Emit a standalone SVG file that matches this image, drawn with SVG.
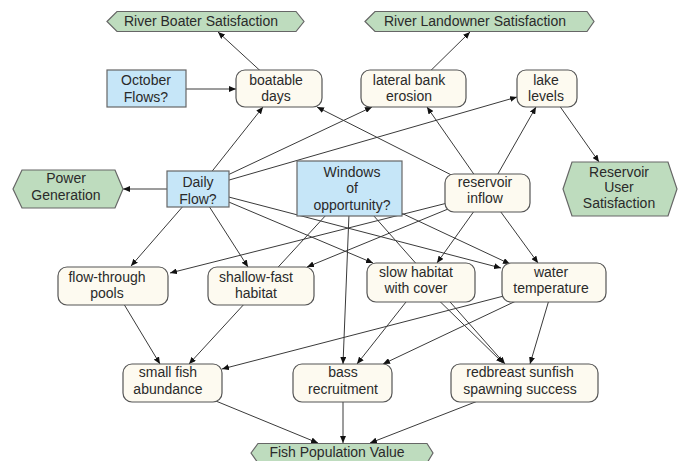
<svg xmlns="http://www.w3.org/2000/svg" width="680" height="461" viewBox="0 0 680 461">
  <defs>
    <marker id="arr" markerUnits="userSpaceOnUse" markerWidth="8" markerHeight="6" refX="7" refY="3" orient="auto">
      <path d="M0,0 L7,3 L0,6 z" fill="#111"/>
    </marker>
    <style>
      .edge { stroke: #3a3a3a; stroke-width: 1; fill: none; marker-end: url(#arr); }
      .chance { fill: #fdfaf0; stroke: #555; stroke-width: 1.2; }
      .decision { fill: #c6e6f8; stroke: #666; stroke-width: 1.2; }
      .value { fill: #bedcbe; stroke: #666; stroke-width: 1.2; }
      text { font-family: "Liberation Sans", Arial, sans-serif; font-size: 14px; fill: #2a2a2a; text-anchor: middle; }
    </style>
  </defs>
  <rect width="680" height="461" fill="#ffffff"/>

  <!-- connectors, drawn first so node shapes sit on top -->
  <g id="connectors">
    <line class="edge" x1="279" y1="88" x2="218" y2="32"/>
    <line class="edge" x1="186" y1="89" x2="236" y2="89"/>
    <line class="edge" x1="413" y1="88" x2="470" y2="32"/>
    <line class="edge" x1="547" y1="88" x2="599" y2="162"/>

    <line class="edge" x1="198" y1="189" x2="123" y2="189"/>
    <line class="edge" x1="198" y1="189" x2="263" y2="107"/>
    <line class="edge" x1="198" y1="189" x2="372" y2="107"/>
    <line class="edge" x1="198" y1="189" x2="517" y2="97"/>
    <line class="edge" x1="198" y1="189" x2="131" y2="266"/>
    <line class="edge" x1="198" y1="189" x2="248" y2="267"/>
    <line class="edge" x1="198" y1="189" x2="373" y2="263"/>
    <line class="edge" x1="198" y1="189" x2="501" y2="268"/>

    <line class="edge" x1="350" y1="189" x2="189" y2="364"/>
    <line class="edge" x1="350" y1="189" x2="343" y2="364"/>
    <line class="edge" x1="350" y1="189" x2="505" y2="364"/>
    <line class="edge" x1="350" y1="189" x2="510" y2="264"/>

    <line class="edge" x1="487" y1="193" x2="317" y2="107"/>
    <line class="edge" x1="487" y1="193" x2="427" y2="107"/>
    <line class="edge" x1="487" y1="193" x2="536" y2="107"/>
    <line class="edge" x1="487" y1="193" x2="170" y2="273"/>
    <line class="edge" x1="487" y1="193" x2="307" y2="267"/>
    <line class="edge" x1="487" y1="193" x2="437" y2="263"/>
    <line class="edge" x1="487" y1="193" x2="538" y2="263"/>

    <line class="edge" x1="554" y1="283" x2="222" y2="369"/>
    <line class="edge" x1="554" y1="283" x2="383" y2="364"/>
    <line class="edge" x1="554" y1="283" x2="530" y2="364"/>

    <line class="edge" x1="421" y1="283" x2="357" y2="364"/>
    <line class="edge" x1="421" y1="283" x2="503" y2="363"/>

    <line class="edge" x1="113" y1="286" x2="160" y2="364"/>

    <line class="edge" x1="172" y1="383" x2="318" y2="443"/>
    <line class="edge" x1="343" y1="383" x2="343" y2="443"/>
    <line class="edge" x1="524" y1="383" x2="370" y2="443"/>
  </g>

  <!-- value nodes -->
  <g id="river-boater-satisfaction">
    <polygon class="value" points="107,21.5 117,11.5 296,11.5 304,21.5 296,31.5 117,31.5"/>
    <text x="201" y="26">River Boater Satisfaction</text>
  </g>
  <g id="river-landowner-satisfaction">
    <polygon class="value" points="365,21.5 375,11.5 587,11.5 594,21.5 587,31.5 375,31.5"/>
    <text x="475" y="26">River Landowner Satisfaction</text>
  </g>
  <g id="power-generation">
    <polygon class="value" points="13,189 22,170 115,170 123,189 115,208 22,208"/>
    <text x="66" y="183">Power</text>
    <text x="66" y="200">Generation</text>
  </g>
  <g id="reservoir-user-satisfaction">
    <polygon class="value" points="563,189 572,162 668,162 677,189 668,216 572,216"/>
    <text x="619" y="177">Reservoir</text>
    <text x="619" y="192">User</text>
    <text x="619" y="208">Satisfaction</text>
  </g>
  <g id="fish-population-value">
    <polygon class="value" points="251,453 258,443.5 427,443.5 433,453 427,463 258,463"/>
    <text x="337" y="457">Fish Population Value</text>
  </g>

  <!-- decision nodes -->
  <g id="october-flows">
    <rect class="decision" x="107" y="70" width="79" height="37"/>
    <text x="146" y="85">October</text>
    <text x="146" y="102">Flows?</text>
  </g>
  <g id="daily-flow">
    <rect class="decision" x="167" y="171" width="62" height="36"/>
    <text x="198" y="187">Daily</text>
    <text x="198" y="204">Flow?</text>
  </g>
  <g id="windows-of-opportunity">
    <rect class="decision" x="297" y="161" width="105" height="55"/>
    <text x="352" y="177">Windows</text>
    <text x="352" y="193">of</text>
    <text x="352" y="210">opportunity?</text>
  </g>

  <!-- chance nodes -->
  <g id="boatable-days">
    <rect class="chance" x="236" y="70" width="86" height="37" rx="9"/>
    <text x="276" y="85">boatable</text>
    <text x="276" y="101">days</text>
  </g>
  <g id="lateral-bank-erosion">
    <rect class="chance" x="361" y="70" width="105" height="37" rx="9"/>
    <text x="409" y="85">lateral bank</text>
    <text x="409" y="101">erosion</text>
  </g>
  <g id="lake-levels">
    <rect class="chance" x="517" y="70" width="60" height="37" rx="9"/>
    <text x="546" y="85">lake</text>
    <text x="546" y="101">levels</text>
  </g>
  <g id="reservoir-inflow">
    <rect class="chance" x="445" y="174" width="85" height="38" rx="9"/>
    <text x="485" y="187">reservoir</text>
    <text x="485" y="203">inflow</text>
  </g>
  <g id="flow-through-pools">
    <rect class="chance" x="58" y="267" width="110" height="38" rx="9"/>
    <text x="107" y="282">flow-through</text>
    <text x="107" y="298">pools</text>
  </g>
  <g id="shallow-fast-habitat">
    <rect class="chance" x="208" y="267" width="106" height="38" rx="9"/>
    <text x="256" y="282">shallow-fast</text>
    <text x="256" y="298">habitat</text>
  </g>
  <g id="slow-habitat-with-cover">
    <rect class="chance" x="367" y="263" width="108" height="39" rx="9"/>
    <text x="416" y="277">slow habitat</text>
    <text x="416" y="293">with cover</text>
  </g>
  <g id="water-temperature">
    <rect class="chance" x="502" y="263" width="104" height="39" rx="9"/>
    <text x="551" y="277">water</text>
    <text x="551" y="293">temperature</text>
  </g>
  <g id="small-fish-abundance">
    <rect class="chance" x="123" y="364" width="99" height="38" rx="9"/>
    <text x="168" y="377">small fish</text>
    <text x="168" y="394">abundance</text>
  </g>
  <g id="bass-recruitment">
    <rect class="chance" x="293" y="364" width="99" height="38" rx="9"/>
    <text x="343" y="377">bass</text>
    <text x="343" y="394">recruitment</text>
  </g>
  <g id="redbreast-sunfish-spawning-success">
    <rect class="chance" x="451" y="364" width="147" height="38" rx="9"/>
    <text x="520" y="377">redbreast sunfish</text>
    <text x="520" y="394">spawning success</text>
  </g>
</svg>
